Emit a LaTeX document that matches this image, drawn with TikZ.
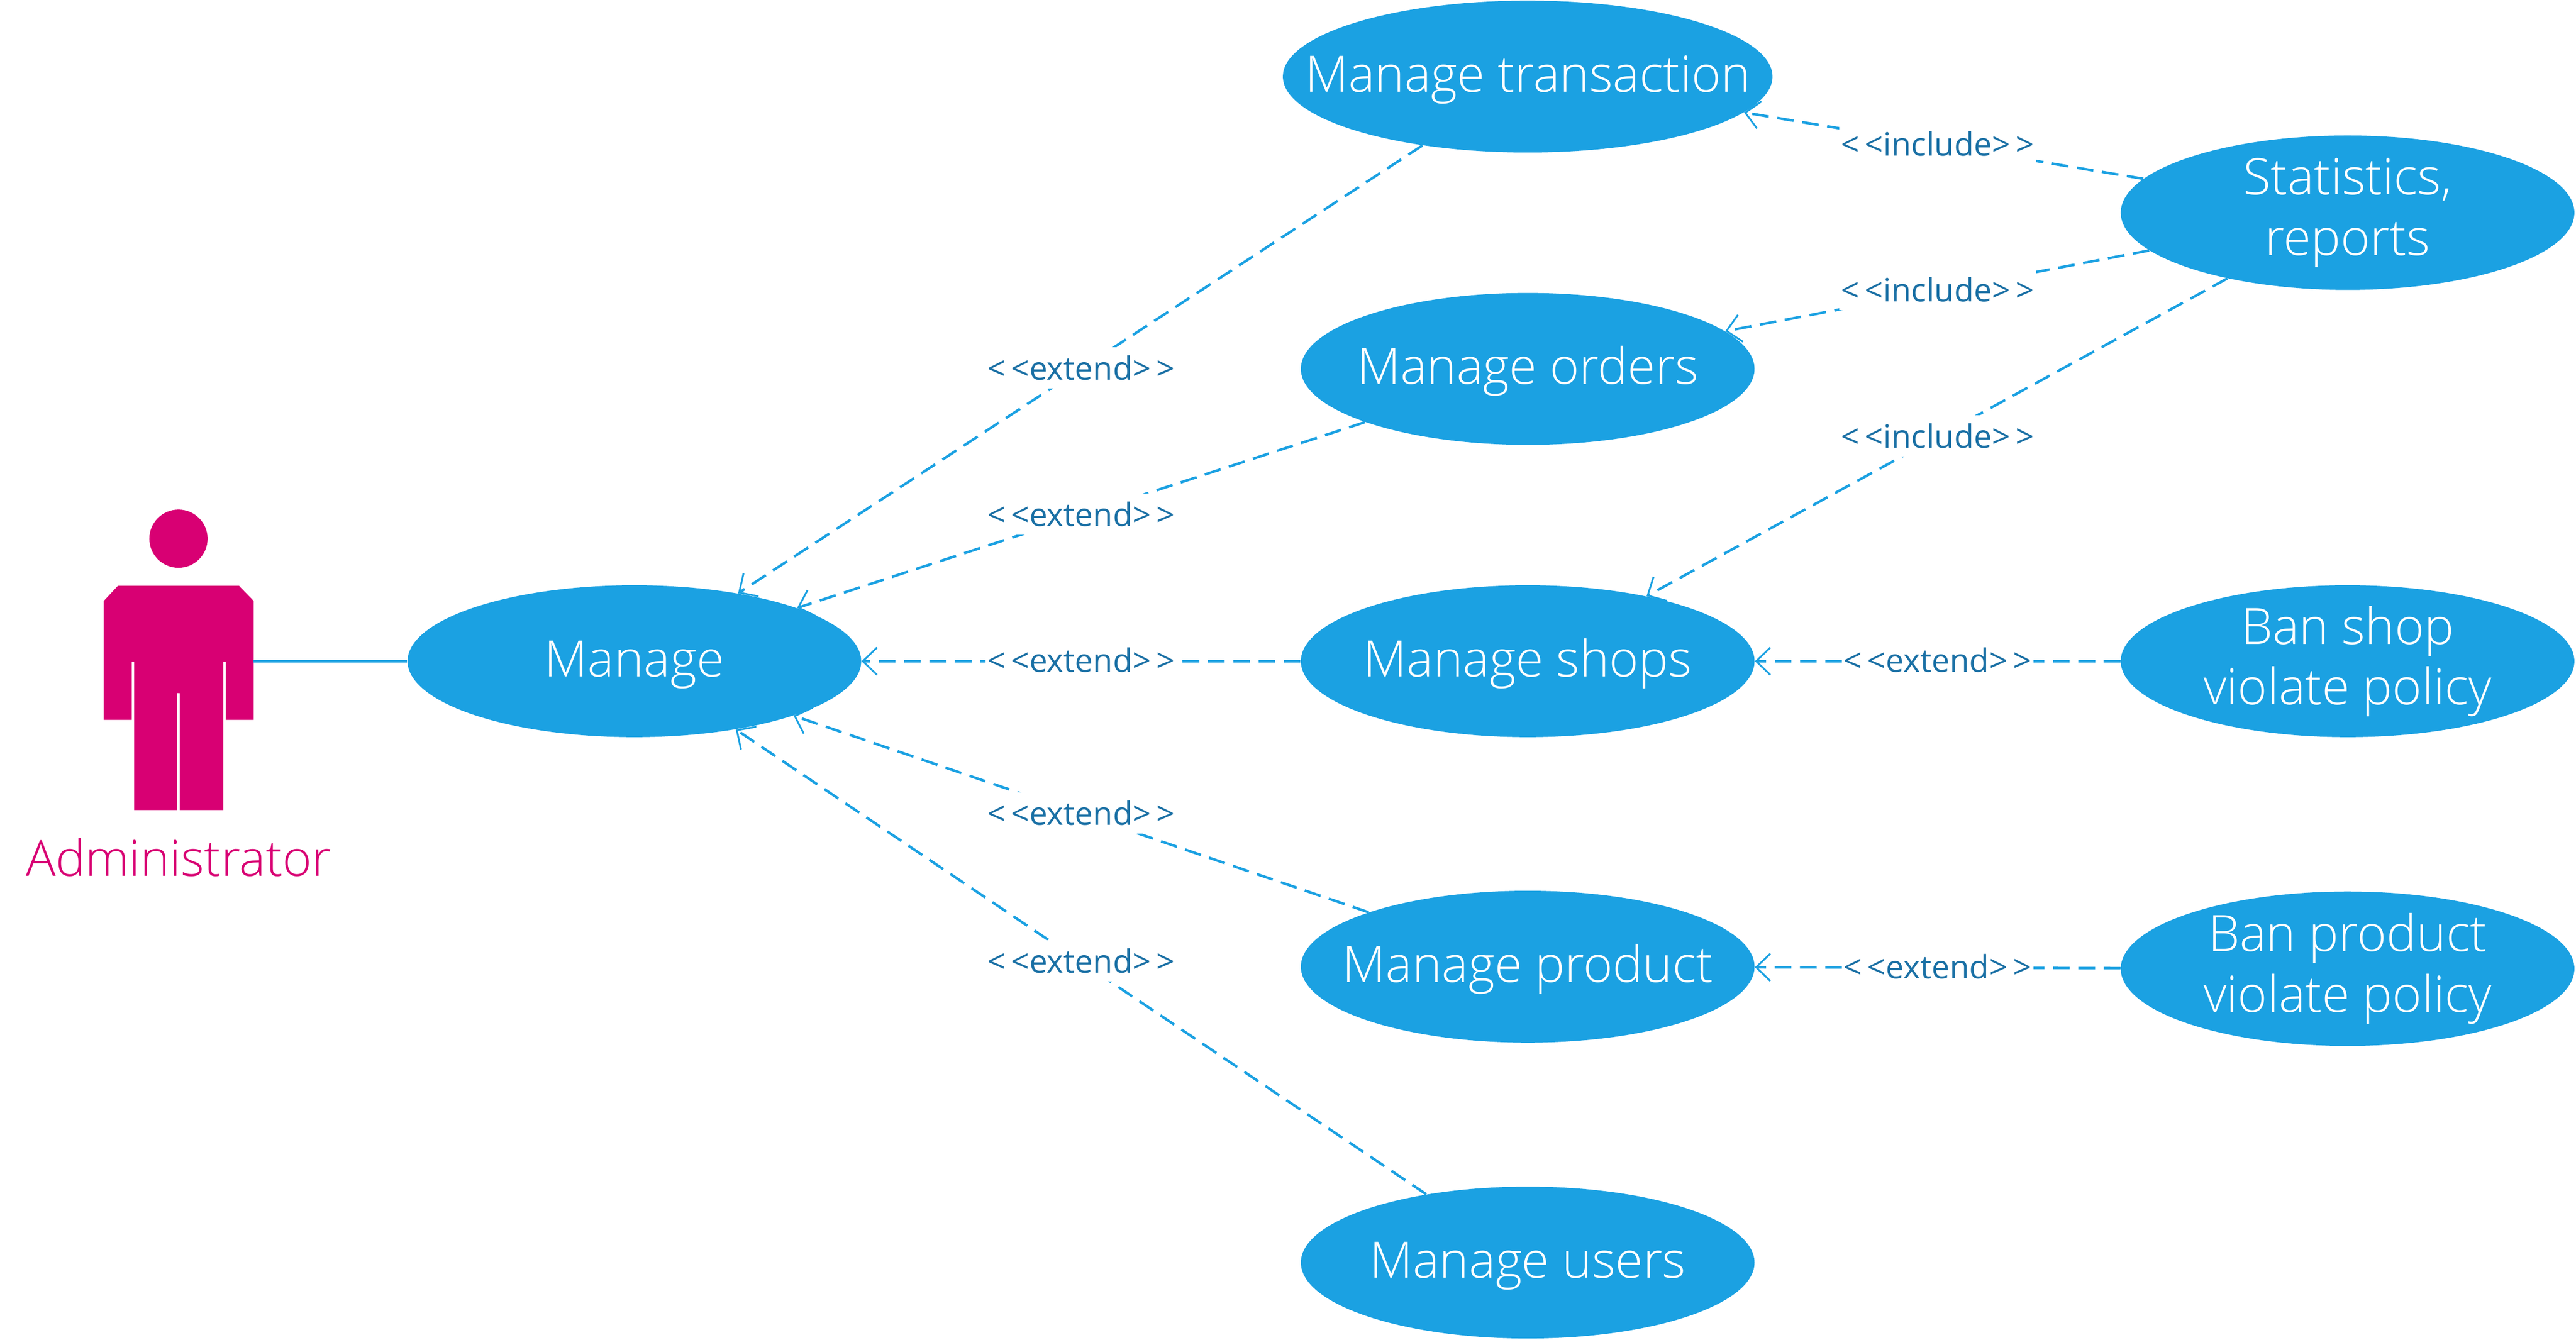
\documentclass[tikz,border=0pt]{standalone}
\usepackage{fontspec}
\setmainfont{Open Sans Light}
\newfontfamily\labelfont{Open Sans}
\usetikzlibrary{positioning, calc, shapes.geometric, arrows.meta}

\definecolor{ucblue}{HTML}{1BA1E2}
\definecolor{reltext}{HTML}{1A70A5}
\definecolor{actorred}{HTML}{D80073}

\tikzset{
    usecase/.style={ellipse, fill=ucblue, text=white, minimum width=8.96cm, minimum height=3cm,
        inner xsep=-1.3cm, inner ysep=-0.3cm, align=center, font=\fontsize{28.2}{34}\selectfont},
    oneline/.style={text height=0.86cm, text depth=0.25cm},
    rel/.style={draw=ucblue, line width=0.05cm, dash pattern=on 0.33cm off 0.17cm,
        -{Straight Barb[length=0.28cm, width=0.54cm, line width=0.035cm]}},
    assoc/.style={draw=ucblue, line width=0.05cm},
    rellabel/.style={fill=white, text=reltext, inner xsep=1pt, inner ysep=0pt, minimum height=0.81cm,
        font=\labelfont\fontsize{18.1}{20}\selectfont}
}

\begin{document}
\begin{tikzpicture}[node distance=2.76cm]
        \useasboundingbox (0,0) rectangle (50.88,-26.46);

        \node (manage) [usecase, oneline] at (12.53,-13.06) {Manage};
        \node (shops) [usecase, oneline, right=8.67cm of manage] {Manage shops};
        \node (orders) [usecase, oneline, above=of shops] {Manage orders};
        \node (transaction) [usecase, oneline, above=of orders, minimum width=9.67cm] {Manage transaction};
        \node (product) [usecase, oneline, below=3.02cm of shops] {Manage product};
        \node (users) [usecase, oneline, below=2.83cm of product] {Manage users};
        \node (banshop) [usecase, right=7.22cm of shops] {Ban shop\\violate policy};
        \node (banproduct) [usecase, right=7.22cm of product, minimum height=3.05cm, yshift=-0.04cm] {Ban product\\violate policy};
        \node (stats) [usecase, above=5.82cm of banshop, minimum height=3.05cm] {Statistics,\\reports};

        % Actor figure
        \node (head) [circle, fill=actorred, minimum size=1.15cm, inner sep=0pt] at (3.525,-10.64) {};
        \fill[actorred] (2.33,-11.57) -- (4.72,-11.57) -- (5.01,-11.87) -- (5.01,-14.22) -- (4.46,-14.22)
            -- (4.46,-13.07) -- (4.41,-13.07) -- (4.41,-16.0) -- (3.55,-16.0) -- (3.55,-13.69)
            -- (3.50,-13.69) -- (3.50,-16.0) -- (2.65,-16.0) -- (2.65,-13.07) -- (2.60,-13.07)
            -- (2.60,-14.22) -- (2.05,-14.22) -- (2.05,-11.87) -- cycle;
        \node (admin) [text=actorred, font=\fontsize{28}{30}\selectfont] at (3.525,-16.93) {Administrator};
        \coordinate (hand) at (5.01,-13.06);

        \draw[assoc] (hand) -- (manage);

        \foreach \i/\j/\t in {transaction/manage/extend, orders/manage/extend, shops/manage/extend,
            product/manage/extend, users/manage/extend, banshop/shops/extend, banproduct/product/extend,
            stats/transaction/include, stats/orders/include, stats/shops/include} {
            \draw[rel] (\i) -- (\j);
            \node (\i-\j) [rellabel, yshift=0.02cm] at ($(\i)!0.5!(\j)$) {<\,<\t>\,>};
        }
    \end{tikzpicture}
\end{document}
